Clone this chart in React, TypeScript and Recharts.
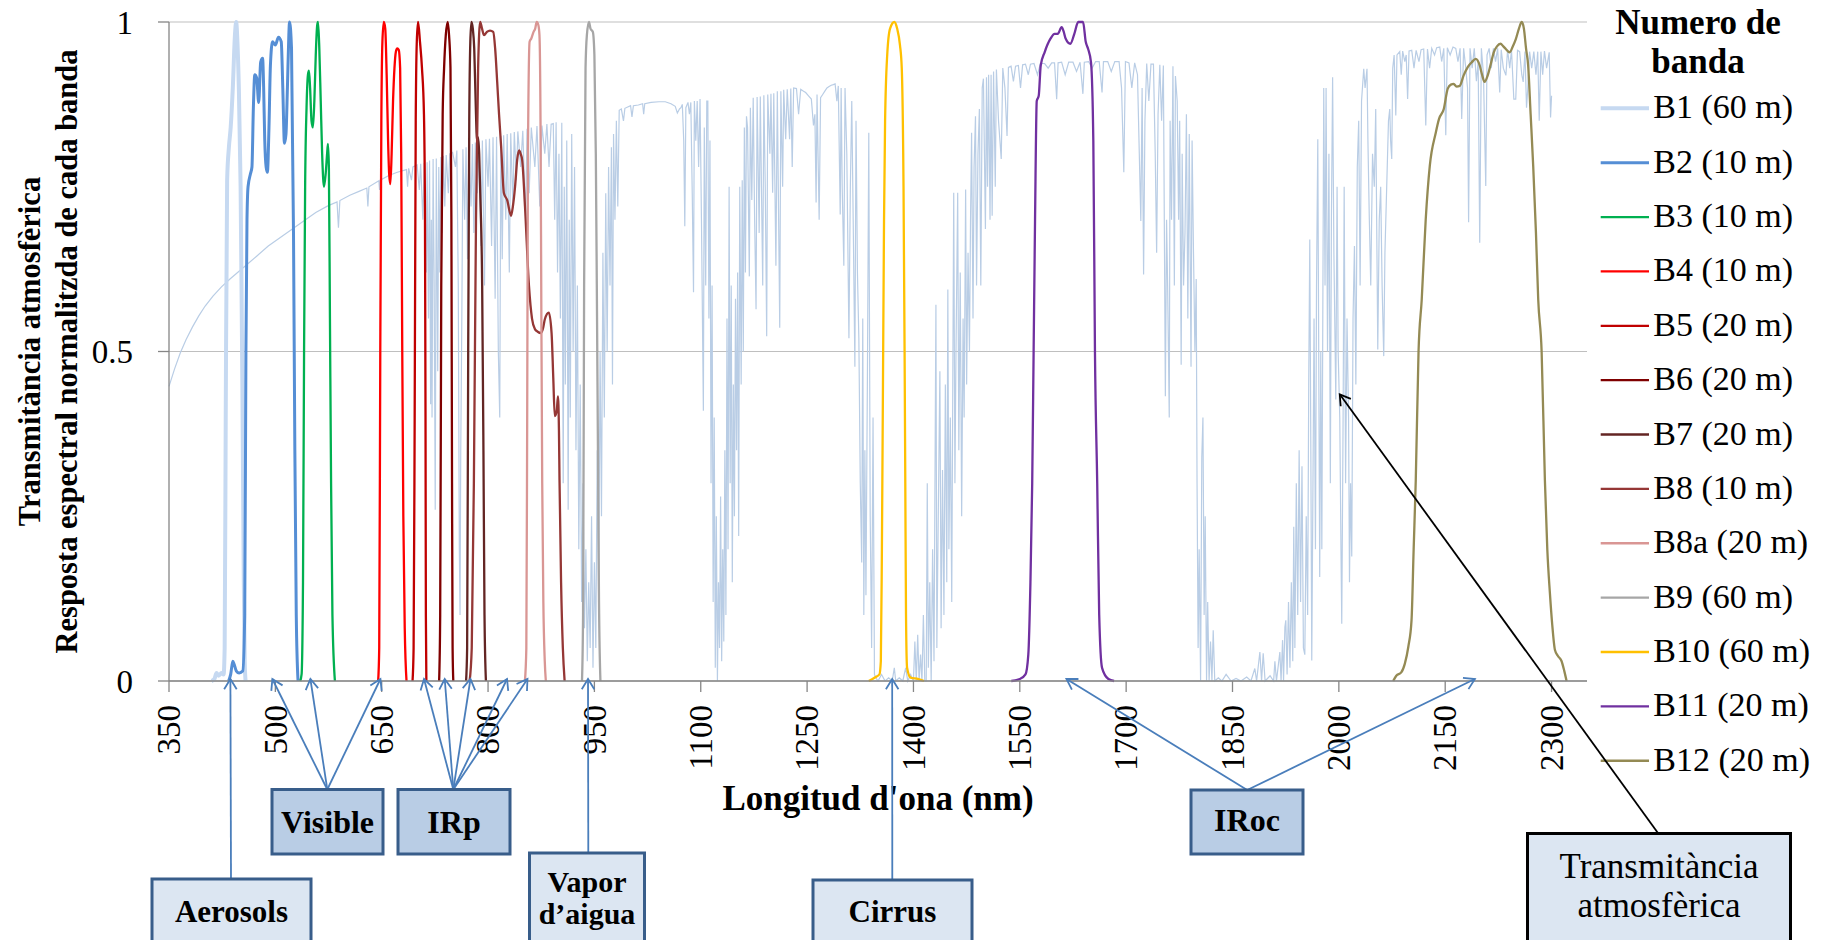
import React from "react";
import { LineChart, Line, XAxis, YAxis, CartesianGrid } from "recharts";

type Pt = [number, number];

const xTicks = [350, 500, 650, 800, 950, 1100, 1250, 1400, 1550, 1700, 1850, 2000, 2150, 2300];
const yTicks = [0, 0.5, 1];

// atmospheric transmittance (nm, value)
const transVisible: Pt[] = [
  [350, 0.447], [358, 0.474], [366, 0.498], [374, 0.518], [383, 0.537], [392, 0.554], [401, 0.569],
  [412, 0.584], [424, 0.598], [436, 0.61], [448, 0.621], [460, 0.632], [474, 0.645], [490, 0.66],
  [507, 0.673], [524, 0.686], [540, 0.698], [557, 0.711], [574, 0.721], [587, 0.727], [589, 0.688],
  [591, 0.729], [605, 0.737], [618, 0.743], [629, 0.748], [630.5, 0.72], [632, 0.75], [646, 0.759],
  [647, 0.745], [648, 0.76], [660, 0.767], [672, 0.772], [685, 0.776], [686.5, 0.75], [688, 0.778],
  [692, 0.76], [694, 0.78], [698, 0.782],
];

const transNir: Pt[] = [
  [700, 0.783], [703, 0.745], [705, 0.785], [708, 0.7], [710, 0.786], [713, 0.62], [714, 0.787],
  [716, 0.55], [717.5, 0.79], [719, 0.42], [720, 0.7], [721, 0.4], [722.5, 0.792], [724, 0.6],
  [725.5, 0.26], [727, 0.793], [729, 0.47], [730.5, 0.78], [732, 0.62], [733.5, 0.795], [735, 0.68],
  [737, 0.797], [739, 0.72], [741, 0.798], [744, 0.74], [746, 0.8], [750, 0.802], [754, 0.78],
  [756, 0.805], [758, 0.6], [759.5, 0.2], [760.5, 0.1], [761.5, 0.35], [763, 0.55], [764.5, 0.807],
  [767, 0.7], [769, 0.81], [771, 0.64], [773, 0.812], [776, 0.72], [778, 0.815], [780, 0.68],
  [782, 0.817], [785, 0.74], [787, 0.819], [790, 0.66], [792, 0.82], [795, 0.6], [797, 0.822],
  [800, 0.75], [802, 0.823], [805, 0.66], [807, 0.825], [810, 0.58], [812, 0.826], [814.5, 0.5],
  [816.5, 0.4], [818, 0.827], [820, 0.64], [822, 0.828], [825, 0.7], [827, 0.83], [830, 0.62],
  [832, 0.831], [835, 0.72], [837, 0.833], [840, 0.76], [842, 0.834], [846, 0.78], [849, 0.835],
  [853, 0.7], [855, 0.838], [858, 0.74], [861, 0.84], [866, 0.78], [869, 0.842], [873, 0.72],
  [876, 0.843], [880, 0.8], [883, 0.845], [886, 0.78], [889, 0.845], [892, 0.846], [894, 0.7],
  [896, 0.848], [898, 0.62], [900, 0.8], [902, 0.55], [904, 0.847], [906, 0.3], [907.5, 0.75],
  [909, 0.45], [911, 0.82], [913, 0.26], [914.5, 0.7], [916, 0.4], [918, 0.83], [920, 0.5],
  [922, 0.78], [924, 0.35], [926, 0.6], [928, 0.2], [930, 0.45], [932, 0.12], [934, 0.3],
  [936, 0.08], [938, 0.2], [940, 0.03], [942, 0.15], [944, 0.05], [946, 0.25], [948, 0.02],
  [950, 0.18], [952, 0.05], [954, 0.35], [956, 0.12], [958, 0.5], [960, 0.25], [962, 0.65],
  [964, 0.4], [966, 0.74], [968, 0.5], [970, 0.78], [972, 0.6], [974, 0.81], [975.5, 0.45],
  [977, 0.83], [979, 0.7], [981, 0.85], [983, 0.72], [985, 0.866],
];

const transSwir1: Pt[] = [
  [988, 0.868], [991, 0.85], [993, 0.869], [997, 0.871], [1001, 0.873], [1003, 0.856], [1005, 0.873],
  [1012, 0.874], [1018, 0.876], [1019.5, 0.86], [1021, 0.876], [1030, 0.878], [1041, 0.879],
  [1050, 0.879], [1058, 0.876], [1064, 0.872], [1067, 0.862], [1070, 0.868], [1072, 0.87],
  [1074, 0.875], [1076, 0.82], [1077.5, 0.69], [1079, 0.87], [1082, 0.878], [1084, 0.86],
  [1086, 0.878], [1088, 0.74], [1089.8, 0.59], [1091, 0.88], [1093, 0.82], [1095, 0.88],
  [1097, 0.78], [1099, 0.883], [1101, 0.7], [1103.7, 0.41], [1105, 0.84], [1107, 0.6],
  [1108.5, 0.88], [1110, 0.88], [1111.5, 0.55], [1113, 0.82], [1114.5, 0.3], [1116, 0.6],
  [1117.5, 0.12], [1119, 0.4], [1120.5, 0.02], [1122, 0.25], [1123.5, 0], [1125, 0.15],
  [1126.5, 0.05], [1128, 0.28], [1129.5, 0.03], [1131, 0.2], [1132.5, 0.06], [1134, 0.35],
  [1135.5, 0.1], [1137, 0.55], [1138.5, 0.2], [1140, 0.75], [1141.5, 0.3], [1143, 0.6],
  [1144.5, 0.15], [1146, 0.45], [1147.5, 0.25], [1149, 0.58], [1150.5, 0.35], [1152, 0.62],
  [1153.5, 0.22], [1155, 0.75], [1157, 0.45], [1158.5, 0.76], [1160, 0.5], [1161.5, 0.84],
  [1163, 0.62], [1164.5, 0.857], [1166, 0.84], [1168.5, 0.614], [1170, 0.87], [1172, 0.73],
  [1174, 0.885], [1176, 0.7], [1178, 0.564], [1179.5, 0.886], [1182.4, 0.68], [1184, 0.887],
  [1187.4, 0.6], [1189, 0.889], [1191, 0.75], [1193, 0.523], [1194.5, 0.89], [1197.5, 0.8],
  [1199, 0.891], [1201.4, 0.741], [1203, 0.892], [1206, 0.63], [1208, 0.895], [1211.4, 0.536],
  [1213, 0.895], [1215.5, 0.75], [1217, 0.897], [1219.8, 0.822], [1222, 0.898], [1225.3, 0.822],
  [1227, 0.899], [1229, 0.78], [1231, 0.9], [1235, 0.899], [1238, 0.86], [1241, 0.898],
  [1245, 0.895], [1248, 0.893], [1252, 0.888], [1256, 0.883], [1259, 0.843], [1261, 0.86],
  [1262.7, 0.726], [1264, 0.89], [1267, 0.7], [1269, 0.885], [1272, 0.89], [1275, 0.895],
  [1278, 0.9], [1281, 0.902], [1284, 0.904], [1287, 0.905], [1289.5, 0.906], [1292, 0.88],
  [1294, 0.903], [1296.7, 0.708], [1298, 0.9], [1299.5, 0.75], [1301.8, 0.63], [1303.5, 0.9],
  [1306, 0.8], [1309, 0.52], [1311, 0.75], [1313, 0.88], [1315, 0.7], [1317.4, 0.477],
  [1319, 0.85], [1321, 0.62], [1323, 0.52], [1325, 0.3], [1327, 0.18], [1328.5, 0.55],
  [1330, 0.1], [1331.5, 0.35], [1333, 0.13], [1335, 0.45], [1337, 0.832], [1339, 0.25],
  [1341, 0.05], [1343, 0.4], [1345, 0.01], [1347, 0.005], [1350, 0], [1355, 0.01], [1360, 0],
  [1365, 0.005], [1370, 0], [1373, 0.02], [1375, 0], [1380, 0.005], [1385, 0], [1389, 0.02],
  [1392, 0], [1396, 0.01], [1400, 0], [1402, 0.06], [1404, 0], [1406, 0.07], [1408, 0],
  [1410, 0.04], [1412, 0], [1414, 0.1], [1416, 0], [1418, 0], [1419.5, 0.3], [1421, 0.02],
  [1423, 0.15], [1425, 0], [1427, 0.2], [1429, 0.03], [1431.7, 0.571], [1433, 0.05],
  [1435, 0.25], [1437.3, 0.47], [1439, 0.08], [1441, 0.32], [1443, 0.1], [1445, 0.45],
  [1447, 0.15], [1448.5, 0.594], [1450, 0.2], [1452, 0.4], [1454, 0.12], [1456.8, 0.741],
  [1458.5, 0.3], [1460, 0.5], [1462.4, 0.741], [1464, 0.35], [1466, 0.62], [1468, 0.25],
  [1470, 0.55], [1471.5, 0.4], [1473.6, 0.746], [1475, 0.45], [1477, 0.65], [1479, 0.5],
  [1480.5, 0.7], [1482, 0.832], [1484, 0.55], [1485.5, 0.78], [1487.5, 0.857], [1489, 0.6],
  [1491, 0.8], [1493, 0.868],
];

const transSwir2: Pt[] = [
  [1495, 0.6], [1497, 0.9], [1498.7, 0.914], [1501.5, 0.686], [1503, 0.916], [1504.5, 0.75],
  [1506, 0.92], [1508, 0.7], [1509.5, 0.92], [1511, 0.706], [1513, 0.925], [1515.4, 0.75],
  [1517, 0.928], [1520, 0.85], [1523.8, 0.792], [1526, 0.93], [1529, 0.9], [1532, 0.827],
  [1534, 0.931], [1537.7, 0.933], [1541, 0.91], [1544, 0.933], [1548, 0.934], [1551, 0.9],
  [1554, 0.935], [1558, 0.936], [1562, 0.92], [1565, 0.936], [1570, 0.937], [1575, 0.92],
  [1579, 0.937], [1585, 0.937], [1590, 0.93], [1595, 0.938], [1599, 0.938], [1602, 0.883],
  [1604, 0.938], [1609, 0.939], [1614, 0.92], [1619, 0.939], [1625, 0.939], [1630, 0.925],
  [1635, 0.939], [1639, 0.891], [1641, 0.939], [1647, 0.94], [1652, 0.93], [1657, 0.94],
  [1662, 0.94], [1666, 0.893], [1668, 0.94], [1674, 0.94], [1679, 0.925], [1684, 0.94],
  [1690, 0.94], [1693.5, 0.9], [1696.7, 0.772], [1699, 0.94], [1704, 0.938], [1708, 0.9],
  [1712, 0.938], [1716, 0.92], [1720.7, 0.698], [1722.5, 0.9], [1724.6, 0.617], [1726.5, 0.85],
  [1729, 0.937], [1732, 0.88], [1735, 0.936], [1738.5, 0.936], [1741, 0.8], [1743, 0.65],
  [1745, 0.86], [1747.5, 0.935], [1750, 0.85], [1752.5, 0.934], [1755.3, 0.432], [1757, 0.7],
  [1758.5, 0.6], [1760.8, 0.4], [1762, 0.85], [1764, 0.7], [1766, 0.933], [1768, 0.6],
  [1769.5, 0.918], [1772, 0.88], [1774, 0.7], [1775.5, 0.85], [1777.6, 0.48], [1779, 0.8],
  [1781, 0.6], [1783, 0.68], [1785, 0.86], [1787, 0.55], [1789, 0.83], [1791.5, 0.477],
  [1793, 0.82], [1795, 0.65], [1797, 0.5], [1798.8, 0.61], [1800, 0.3], [1801.5, 0.05],
  [1803, 0.2], [1805, 0], [1806.7, 0.34], [1808.3, 0.4], [1810, 0.1], [1811.5, 0.25],
  [1813.4, 0], [1815, 0.12], [1817, 0], [1819, 0.06], [1821, 0], [1822.8, 0.077], [1825, 0],
  [1830, 0.005], [1835, 0], [1841, 0.01], [1848, 0], [1855, 0.004], [1862, 0], [1870, 0.006],
  [1876, 0], [1881.5, 0.019], [1884, 0], [1888.6, 0.044], [1891, 0], [1893.3, 0.042],
  [1896, 0], [1903, 0.008], [1908, 0], [1909.8, 0.03], [1912, 0], [1916.8, 0.044],
  [1918.5, 0], [1920.6, 0.062], [1922, 0], [1923.9, 0.082], [1925.2, 0.092], [1927, 0.01],
  [1929, 0.12], [1931, 0.02], [1933, 0.15], [1935, 0.03], [1936.4, 0.234], [1938, 0.05],
  [1940, 0.3], [1942, 0.1], [1944, 0.35],
];

const transSwir3: Pt[] = [
  [1946, 0.12], [1948, 0.326], [1950, 0.05], [1952, 0.04], [1954, 0.25], [1956, 0.1],
  [1957.5, 0.45], [1959, 0.67], [1960.5, 0.35], [1961.8, 0.031], [1963.5, 0.3], [1965, 0.55],
  [1967, 0.2], [1968.5, 0.6], [1970.3, 0.822], [1972, 0.4], [1973, 0.158], [1974.5, 0.5],
  [1976, 0.2], [1978.7, 0.9], [1980.5, 0.6], [1982, 0.9], [1984, 0.5], [1986, 0.8], [1988, 0.3],
  [1989.5, 0.7], [1991.2, 0.916], [1993, 0.65], [1995.7, 0.427], [1997.5, 0.75], [1999, 0.5],
  [2001.3, 0.4], [2003, 0.2], [2004.1, 0.087], [2006, 0.4], [2007.5, 0.75], [2009.5, 0.3],
  [2011.5, 0.55], [2013.7, 0.4], [2015, 0.15], [2016.5, 0.3], [2018.2, 0.189], [2020, 0.55],
  [2022, 0.66], [2024, 0.45], [2026, 0.78], [2028, 0.85], [2030, 0.6], [2032, 0.88],
  [2035.1, 0.929], [2037, 0.9], [2039.7, 0.929], [2041, 0.82], [2043, 0.7], [2045, 0.6],
  [2047.5, 0.8], [2050, 0.75], [2052, 0.868], [2054.9, 0.503], [2057, 0.7], [2059, 0.75],
  [2061, 0.6], [2063.3, 0.493], [2065, 0.65], [2067.5, 0.75], [2070, 0.85], [2071.8, 0.868],
  [2073, 0.82], [2074.6, 0.792], [2076, 0.93], [2078, 0.95], [2080.3, 0.858], [2082, 0.95],
  [2085.9, 0.955], [2088, 0.92], [2090, 0.956], [2093, 0.94], [2095, 0.95], [2097, 0.883],
  [2099, 0.956], [2102.8, 0.957], [2106, 0.93], [2109, 0.957], [2113, 0.94], [2116, 0.958],
  [2119.7, 0.959], [2122.6, 0.843], [2125, 0.959], [2128, 0.93], [2131, 0.96], [2135, 0.95],
  [2138, 0.961], [2142.3, 0.962], [2145, 0.94], [2148, 0.96], [2150.8, 0.828], [2153, 0.961],
  [2157, 0.95], [2161, 0.962], [2164.9, 0.96], [2168, 0.94], [2171, 0.96], [2173.3, 0.853],
  [2176, 0.96], [2179, 0.93], [2181.5, 0.9], [2183, 0.696], [2185, 0.96], [2188, 0.93],
  [2191, 0.96], [2194, 0.91], [2196.5, 0.94], [2198.7, 0.665], [2201, 0.96], [2204, 0.92],
  [2207.2, 0.751], [2209, 0.95], [2212, 0.96], [2215, 0.93], [2218, 0.96], [2221, 0.94],
  [2224, 0.96], [2226.9, 0.893], [2229, 0.958], [2232, 0.93], [2235.6, 0.919], [2238, 0.958],
  [2241, 0.93], [2243.5, 0.958], [2246.8, 0.883], [2249.5, 0.883], [2252, 0.957], [2255, 0.955],
  [2258, 0.92], [2260, 0.909], [2262.5, 0.955], [2264.7, 0.87], [2266.4, 0.898], [2269, 0.955],
  [2272, 0.93], [2275, 0.955], [2278, 0.92], [2280.5, 0.955], [2282.6, 0.85], [2285, 0.955],
  [2287.5, 0.92], [2290, 0.956], [2293, 0.93], [2296.7, 0.954], [2298.6, 0.855], [2300, 0.888],
];

// normalised spectral response of each band (nm, value)
const b1: Pt[] = [
  [410, 0], [414, 0.003], [417, 0.012], [420, 0.008], [424, 0.012], [427, 0.01], [428.5, 0.05],
  [430, 0.4], [432, 0.76], [434.5, 0.81], [437, 0.84], [440, 0.9], [443, 0.98], [444.7, 1],
  [446.5, 0.97], [448.5, 0.9], [451, 0.75], [453.5, 0.45], [455.5, 0.15], [456.8, 0.03], [458, 0],
];
const b2: Pt[] = [
  [434, 0], [437, 0.01], [440, 0.03], [442, 0.025], [445, 0.015], [449, 0.012], [454, 0.015],
  [456.8, 0.1], [458.5, 0.5], [460, 0.7], [461.5, 0.75], [465, 0.77], [467, 0.78], [469, 0.87],
  [471, 0.92], [473.7, 0.915], [476.5, 0.878], [479.3, 0.939], [482, 0.945], [483.5, 0.9],
  [485, 0.822], [487, 0.78], [488.8, 0.772], [491, 0.84], [493, 0.933], [496, 0.97], [500, 0.965],
  [504.4, 0.977], [508.3, 0.97], [510.5, 0.9], [512.8, 0.816], [515, 0.83], [517, 0.9],
  [519, 0.98], [520, 1], [522.8, 0.96], [525.6, 0.68], [527.5, 0.35], [529.5, 0.1], [532, 0],
];
const b3: Pt[] = [
  [535, 0], [537, 0.01], [539, 0.15], [540.5, 0.5], [542, 0.75], [544, 0.87], [546, 0.92],
  [547.4, 0.926], [549, 0.9], [551, 0.85], [553, 0.84], [555, 0.88], [557, 0.95], [559, 0.995],
  [560.2, 1], [562, 0.96], [564, 0.88], [566, 0.8], [568.6, 0.75], [571, 0.77], [573, 0.8],
  [574.2, 0.815], [575.5, 0.78], [577, 0.55], [578.6, 0.3], [580.5, 0.1], [584, 0],
];
const b4: Pt[] = [
  [645, 0], [646.5, 0.05], [648, 0.5], [649.5, 0.85], [651, 0.97], [653, 1], [655, 0.99],
  [657, 0.92], [659, 0.82], [660.5, 0.77], [662.2, 0.754], [664, 0.8], [666, 0.88], [668, 0.93],
  [670, 0.955], [672, 0.96], [674, 0.958], [676, 0.93], [677.5, 0.8], [679, 0.5], [680.5, 0.25],
  [682.5, 0.08], [685, 0],
];
const b5: Pt[] = [
  [693.5, 0], [695, 0.05], [696.5, 0.4], [698, 0.85], [699.5, 0.97], [701.3, 1], [704, 0.97],
  [706.8, 0.93], [709.6, 0.86], [711, 0.72], [711.8, 0.4], [712.3, 0.1], [713, 0],
];
const b6: Pt[] = [
  [731, 0], [732.5, 0.1], [734, 0.6], [736, 0.86], [738, 0.93], [740.4, 0.98], [743.2, 1],
  [745, 0.98], [747, 0.93], [748.3, 0.7], [749.2, 0.3], [750, 0.05], [751, 0],
];
const b7: Pt[] = [
  [769, 0], [770.5, 0.05], [772, 0.5], [773.5, 0.85], [775, 0.97], [776.6, 1], [778.5, 0.99],
  [780.5, 0.96], [782.5, 0.88], [784.5, 0.82], [786, 0.825], [787.5, 0.8], [789, 0.74],
  [791.7, 0.6], [793.5, 0.35], [795, 0.1], [797, 0],
];
const b8: Pt[] = [
  [774, 0], [777, 0.05], [780, 0.3], [783, 0.7], [786, 0.93], [788.9, 1], [791.5, 0.99],
  [794.4, 0.98], [798.4, 0.985], [802.8, 0.987], [807.3, 0.985], [810, 0.96], [812.9, 0.909],
  [815.5, 0.86], [818.5, 0.81], [822.4, 0.74], [826.9, 0.73], [832.5, 0.706], [835, 0.72],
  [838.1, 0.75], [841, 0.79], [843.7, 0.805], [846, 0.8], [848.2, 0.79], [852.1, 0.72],
  [857.7, 0.6], [862, 0.55], [866.1, 0.534], [870, 0.53], [874.5, 0.528], [877.5, 0.535],
  [880.1, 0.549], [885.7, 0.559], [889.6, 0.528], [892, 0.46], [894.1, 0.402], [896.9, 0.41],
  [898.6, 0.432], [900, 0.38], [900.8, 0.305], [903, 0.15], [905.5, 0.05], [908, 0],
];
const b8a: Pt[] = [
  [852, 0], [854, 0.05], [855.2, 0.4], [856.3, 0.8], [858.6, 0.97], [861, 0.975], [864.2, 0.985],
  [866.5, 0.99], [868.6, 1], [871, 0.995], [872.5, 0.98], [874, 0.85], [875.2, 0.55],
  [876.4, 0.3], [878, 0.12], [880, 0.03], [881.5, 0],
];
const b9: Pt[] = [
  [932.5, 0], [934, 0.1], [935.5, 0.6], [937.5, 0.93], [939.4, 0.98], [942.3, 1], [944.5, 0.99],
  [947.8, 0.985], [950, 0.95], [952, 0.8], [953.4, 0.6], [955, 0.35], [956.5, 0.12], [958.5, 0],
];
const b10: Pt[] = [
  [1337, 0], [1345, 0.005], [1352, 0.01], [1354, 0.03], [1355.5, 0.2], [1357, 0.45], [1358.5, 0.7],
  [1360, 0.85], [1363, 0.95], [1367, 0.99], [1373, 1], [1377, 0.99], [1381, 0.965],
  [1383.5, 0.93], [1386, 0.75], [1387.5, 0.5], [1388.5, 0.3], [1389.5, 0.1], [1391, 0.02],
  [1396, 0.005], [1407, 0.003], [1415, 0],
];
const b11: Pt[] = [
  [1538, 0], [1550, 0.003], [1558, 0.01], [1562, 0.04], [1565, 0.15], [1567.5, 0.3],
  [1569.5, 0.5], [1571.5, 0.7], [1573.9, 0.88], [1576.7, 0.888], [1579.5, 0.934], [1585, 0.954],
  [1593.5, 0.975], [1599, 0.982], [1603.5, 0.982], [1609, 0.992], [1612, 0.985], [1614.6, 0.975],
  [1621.3, 0.967], [1626.9, 0.982], [1632.4, 1], [1639.2, 1], [1643, 0.97], [1646.4, 0.959],
  [1650.4, 0.939], [1653.7, 0.82], [1656, 0.5], [1659.2, 0.3], [1662, 0.1], [1666, 0.02],
  [1675, 0.003], [1683, 0],
];
const b12: Pt[] = [
  [2076.6, 0], [2081, 0.008], [2088, 0.013], [2093, 0.026], [2098, 0.052], [2102.5, 0.092],
  [2105.5, 0.2], [2108.5, 0.305], [2112.4, 0.5], [2116.9, 0.579], [2122.5, 0.7], [2128.3, 0.782],
  [2136.7, 0.832], [2141.3, 0.853], [2148, 0.868], [2153.6, 0.899], [2158, 0.905], [2162, 0.906],
  [2166, 0.902], [2170.5, 0.903], [2176, 0.919], [2182, 0.932], [2187.5, 0.939], [2193, 0.944],
  [2198.7, 0.934], [2202, 0.92], [2205.5, 0.909], [2210, 0.919], [2214, 0.935], [2218.5, 0.954],
  [2223, 0.963], [2228, 0.967], [2232, 0.963], [2235.5, 0.959], [2241, 0.954], [2245, 0.962],
  [2249.6, 0.974], [2254, 0.99], [2258, 1], [2261, 0.99], [2264, 0.96], [2267, 0.934],
  [2270.5, 0.86], [2274.1, 0.782], [2278, 0.68], [2281.2, 0.579], [2286, 0.5], [2290.6, 0.305],
  [2294, 0.2], [2297.7, 0.133], [2301, 0.085], [2304.8, 0.047], [2309, 0.038], [2314.2, 0.03],
  [2318, 0.015], [2321.2, 0],
];

const bandNames = [
  "B1 (60 m)", "B2 (10 m)", "B3 (10 m)", "B4 (10 m)", "B5 (20 m)", "B6 (20 m)", "B7 (20 m)",
  "B8 (10 m)", "B8a (20 m)", "B9 (60 m)", "B10 (60 m)", "B11 (20 m)", "B12 (20 m)",
];
const bandPoints = [b1, b2, b3, b4, b5, b6, b7, b8, b8a, b9, b10, b11, b12];
const bandColors = [
  "#c6d9f1", "#558ed5", "#00b050", "#ff0000", "#c00000", "#7f0000", "#632523",
  "#953735", "#d99694", "#a6a6a6", "#ffc000", "#7030a0", "#948a54",
];
const bandWidths = [4, 3, 2.3, 2.3, 2.3, 2.3, 2.3, 2.3, 2.3, 2.3, 2.3, 2.3, 2.3];

const transmittance = [...transVisible, ...transNir, ...transSwir1, ...transSwir2, ...transSwir3];

const FONT = "'Liberation Serif', 'Times New Roman', serif";
const W = 1827;
const H = 940;
const MARGIN = { top: 22, right: 240, bottom: 199, left: 0 };
const Y_AXIS_W = 169;
const X_AXIS_H = 60;
const plotL = MARGIN.left + Y_AXIS_W;
const plotR = W - MARGIN.right;
const plotT = MARGIN.top;
const plotB = H - MARGIN.bottom - X_AXIS_H;

const xPix = (nm: number) => plotL + ((nm - 350) / 2000) * (plotR - plotL);
const yPix = (v: number) => plotB - v * (plotB - plotT);

const toRows = (pts: Pt[]) => pts.map(([x, y]) => ({ x, y }));

const LIGHT = "#dce6f2";
const MID = "#b9cde5";
const NAVY = "#385d8a";
const ARROW = "#4a7ebb";

// callout boxes under the axis; targets are wavelengths on the axis
const callouts = [
  { text: ["Aerosols"], x: 152, y: 879, w: 159, h: 100, fill: LIGHT, base: [922], size: 31, from: 231, targets: [436.6] },
  { text: ["Visible"], x: 272, y: 789.5, w: 111, h: 64.5, fill: MID, base: [833], size: 32, from: 327.3, targets: [495.8, 549.4, 648.2] },
  { text: ["IRp"], x: 398, y: 789.5, w: 112, h: 64.5, fill: MID, base: [833], size: 32, from: 453.3, targets: [709.7, 738.9, 775.2, 826.8, 855.6] },
  { text: ["Vapor", "d\u2019aigua"], x: 529.5, y: 853, w: 115, h: 100, fill: LIGHT, base: [892, 924], size: 30, from: 588.3, targets: [941] },
  { text: ["Cirrus"], x: 813, y: 880, w: 159, h: 100, fill: LIGHT, base: [922], size: 31, from: 892.3, targets: [1370] },
  { text: ["IRoc"], x: 1191, y: 790, w: 112, h: 64, fill: MID, base: [831], size: 32, from: 1247.2, targets: [1615.8, 2191.9] },
];

function Arrow({ x1, y1, x2, y2, color }: { x1: number; y1: number; x2: number; y2: number; color: string }) {
  const ang = Math.atan2(y2 - y1, x2 - x1);
  const L = 12;
  const a = 0.55;
  const p1 = `${x2 - L * Math.cos(ang - a)},${y2 - L * Math.sin(ang - a)}`;
  const p2 = `${x2 - L * Math.cos(ang + a)},${y2 - L * Math.sin(ang + a)}`;
  return (
    <g>
      <line x1={x1} y1={y1} x2={x2} y2={y2} stroke={color} strokeWidth={1.8} />
      <polyline points={`${p1} ${x2},${y2} ${p2}`} fill="none" stroke={color} strokeWidth={1.8} />
    </g>
  );
}

const XTick = (props: any) => {
  const { x, y, payload } = props;
  return (
    <text
      x={x}
      y={y}
      transform={`rotate(-90, ${x}, ${y})`}
      textAnchor="end"
      dy="0.34em"
      fontSize={33}
      fontFamily={FONT}
      fill="#000"
    >
      {payload.value}
    </text>
  );
};

function Overlay() {
  const cy = (plotT + plotB) / 2;
  const legendTop = 108.3;
  const legendStep = 54.37;
  return (
    <svg width={W} height={H} style={{ position: "absolute", left: 0, top: 0, pointerEvents: "none" }}>
      {/* axis titles */}
      <text x={39.5} y={cy} transform={`rotate(-90, 39.5, ${cy})`} textAnchor="middle" fontSize={30.5} fontWeight="bold" fontFamily={FONT}>
        Transmitància atmosfèrica
      </text>
      <text x={77} y={cy} transform={`rotate(-90, 77, ${cy})`} textAnchor="middle" fontSize={30.5} fontWeight="bold" fontFamily={FONT}>
        Resposta espectral normalitzda de cada banda
      </text>
      <text x={(plotL + plotR) / 2} y={810} textAnchor="middle" fontSize={35} fontWeight="bold" fontFamily={FONT}>
        Longitud d'ona (nm)
      </text>

      {/* legend */}
      <text x={1698} y={34} textAnchor="middle" fontSize={35} fontWeight="bold" fontFamily={FONT}>Numero de</text>
      <text x={1698} y={73.3} textAnchor="middle" fontSize={35} fontWeight="bold" fontFamily={FONT}>banda</text>
      {bandNames.map((name, i) => {
        const ly = legendTop + i * legendStep;
        return (
          <g key={name}>
            <line x1={1600.7} x2={1649} y1={ly} y2={ly} stroke={bandColors[i]} strokeWidth={bandWidths[i]} />
            <text x={1653.3} y={ly + 10} fontSize={34} fontFamily={FONT} fill="#000">{name}</text>
          </g>
        );
      })}

      {/* callouts */}
      {callouts.map((c) =>
        c.targets.map((t) => (
          <Arrow key={`${c.text[0]}-${t}`} x1={c.from} y1={c.y} x2={xPix(t)} y2={plotB - 2} color={ARROW} />
        ))
      )}
      {callouts.map((c) => (
        <g key={c.text[0]}>
          <rect x={c.x} y={c.y} width={c.w} height={c.h} fill={c.fill} stroke={NAVY} strokeWidth={3} />
          {c.text.map((s, k) => (
            <text key={s} x={c.x + c.w / 2} y={c.base[k]} textAnchor="middle" fontSize={c.size} fontWeight="bold" fontFamily={FONT}>
              {s}
            </text>
          ))}
        </g>
      ))}

      <Arrow x1={1658.3} y1={833.5} x2={xPix(2001.3)} y2={yPix(0.435)} color="#000" />
      <rect x={1527.5} y={833.5} width={263} height={120} fill={LIGHT} stroke="#000" strokeWidth={3} />
      <text x={1659} y={878} textAnchor="middle" fontSize={35} fontFamily={FONT}>Transmitància</text>
      <text x={1659} y={917} textAnchor="middle" fontSize={35} fontFamily={FONT}>atmosfèrica</text>
    </svg>
  );
}

export default function App() {
  return (
    <div style={{ position: "absolute", left: 0, top: 0, width: W, height: H, background: "#fff", fontFamily: FONT }}>
      <LineChart width={W} height={H} margin={MARGIN}>
        <CartesianGrid vertical={false} stroke="#bfbfbf" strokeWidth={1.2} />
        <XAxis
          type="number"
          dataKey="x"
          domain={[350, 2350]}
          ticks={xTicks}
          interval={0}
          height={X_AXIS_H}
          tickSize={11}
          tickMargin={13}
          stroke="#868686"
          strokeWidth={1.3}
          tick={<XTick />}
        />
        <YAxis
          type="number"
          dataKey="y"
          domain={[0, 1]}
          ticks={yTicks}
          width={Y_AXIS_W}
          tickSize={11}
          tickMargin={25}
          stroke="#868686"
          strokeWidth={1.3}
          tick={{ fill: "#000", fontSize: 33, fontFamily: FONT }}
        />
        <Line
          data={toRows(transmittance)}
          dataKey="y"
          type="linear"
          stroke="#b9cde5"
          strokeWidth={1.2}
          dot={false}
          activeDot={false}
          isAnimationActive={false}
        />
        {bandPoints.map((pts, i) => (
          <Line
            key={bandNames[i]}
            data={toRows(pts)}
            dataKey="y"
            name={bandNames[i]}
            type="monotone"
            stroke={bandColors[i]}
            strokeWidth={bandWidths[i]}
            dot={false}
            activeDot={false}
            isAnimationActive={false}
          />
        ))}
      </LineChart>
      <Overlay />
    </div>
  );
}
